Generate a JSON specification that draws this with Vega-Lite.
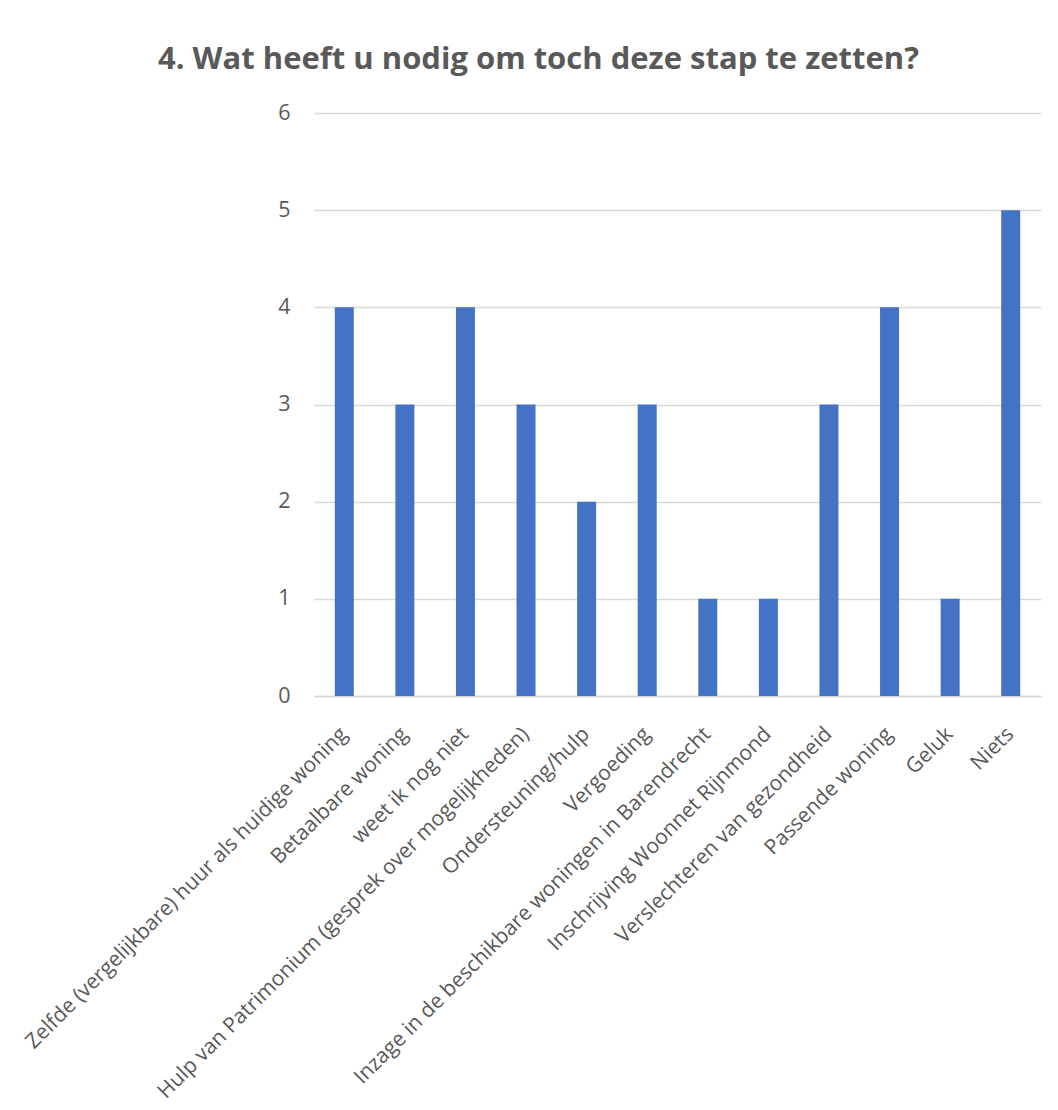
{
  "$schema": "https://vega.github.io/schema/vega-lite/v6.json",
  "autosize": "none",
  "width": 727,
  "height": 583,
  "padding": {"left": 314, "top": 113, "right": 17, "bottom": 414},
  "background": "white",
  "title": {
    "text": "4. Wat heeft u nodig om toch deze stap te zetten?",
    "font": "Open Sans",
    "fontSize": 31,
    "fontWeight": "bold",
    "color": "#595959",
    "anchor": "middle",
    "dx": -139,
    "offset": 26
  },
  "data": {
    "values": [
      {"antwoord": "Zelfde (vergelijkbare) huur als huidige woning", "aantal": 4},
      {"antwoord": "Betaalbare woning", "aantal": 3},
      {"antwoord": "weet ik nog niet", "aantal": 4},
      {"antwoord": "Hulp van Patrimonium (gesprek over mogelijkheden)", "aantal": 3},
      {"antwoord": "Ondersteuning/hulp", "aantal": 2},
      {"antwoord": "Vergoeding", "aantal": 3},
      {"antwoord": "Inzage in de beschikbare woningen in Barendrecht", "aantal": 1},
      {"antwoord": "Inschrijving Woonnet Rijnmond", "aantal": 1},
      {"antwoord": "Verslechteren van gezondheid", "aantal": 3},
      {"antwoord": "Passende woning", "aantal": 4},
      {"antwoord": "Geluk", "aantal": 1},
      {"antwoord": "Niets", "aantal": 5}
    ]
  },
  "mark": {"type": "bar", "color": "#4472C4", "size": 19},
  "encoding": {
    "x": {
      "field": "antwoord",
      "type": "nominal",
      "sort": null,
      "title": null,
      "axis": {
        "labelAngle": -45,
        "labelFont": "Open Sans",
        "labelFontSize": 21,
        "labelColor": "#595959",
        "labelPadding": 27,
        "labelOffset": -8,
        "labelLimit": 0,
        "ticks": false,
        "domainColor": "#d9d9d9",
        "domainWidth": 1.5,
        "grid": false
      }
    },
    "y": {
      "field": "aantal",
      "type": "quantitative",
      "title": null,
      "scale": {"domain": [0, 6]},
      "axis": {
        "values": [0, 1, 2, 3, 4, 5, 6],
        "labelFont": "Open Sans",
        "labelFontSize": 21.5,
        "labelColor": "#595959",
        "labelPadding": 24,
        "ticks": false,
        "domain": false,
        "gridColor": "#d9d9d9",
        "gridWidth": 1.3
      }
    }
  },
  "config": {"view": {"stroke": null}}
}
